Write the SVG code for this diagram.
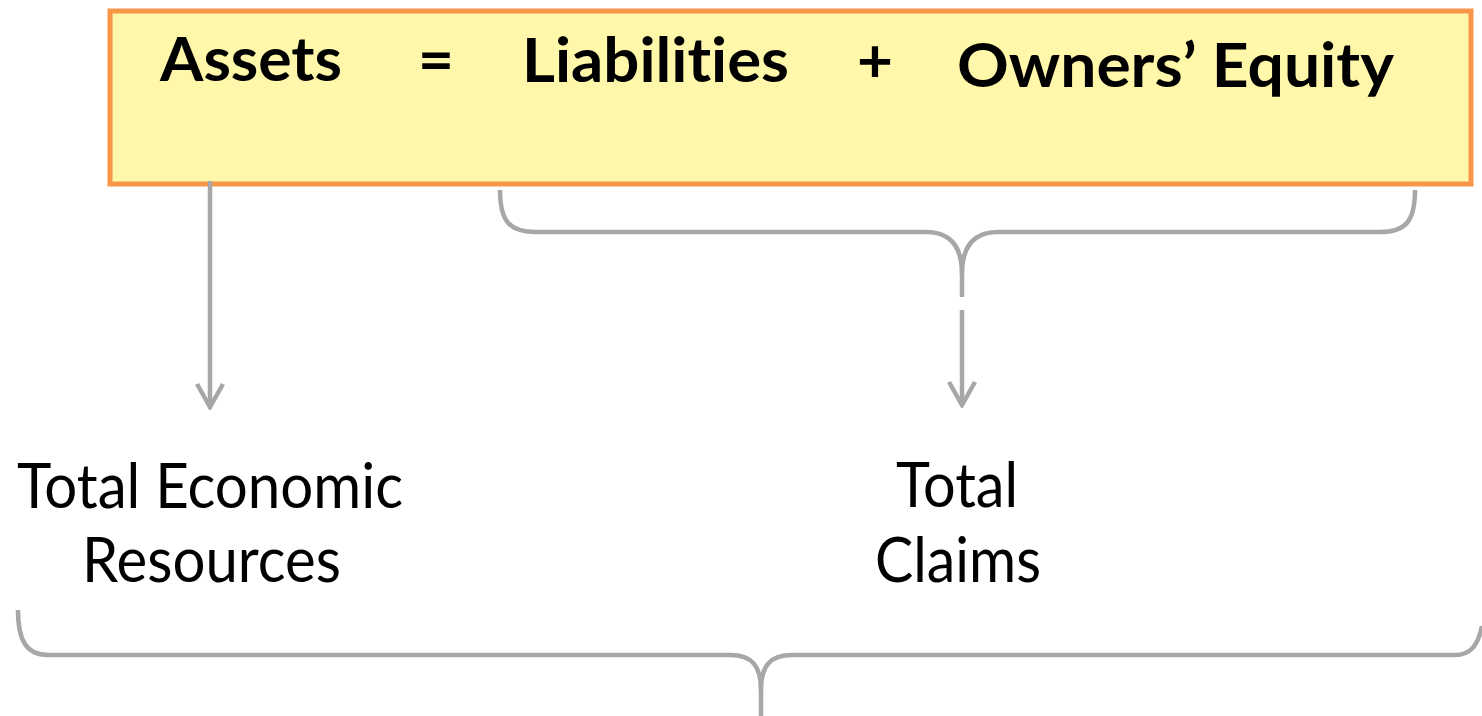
<svg xmlns="http://www.w3.org/2000/svg" width="1482" height="716" viewBox="0 0 1482 716">
  <defs>
    <style>
      text { font-variant-ligatures: none; font-feature-settings: "liga" 0, "clig" 0; }
      .eq { font-family: Lato, "Open Sans", "Liberation Sans", sans-serif; font-weight: 700; font-size: 62px; fill: #000; }
      .lbl { font-family: Lato, "Open Sans", "Liberation Sans", sans-serif; font-weight: 400; font-size: 61px; fill: #000; }
      .link { fill: none; stroke: #A7A7AA; stroke-width: 4.5; stroke-linecap: butt; stroke-linejoin: round; }
    </style>
    <!-- open V arrowhead, tip along +x so orient="auto" follows the line -->
    <marker id="chevron" viewBox="0 0 28 30" refX="25" refY="15" markerWidth="28" markerHeight="30" markerUnits="userSpaceOnUse" orient="auto">
      <path d="M2,2 L25,15 L2,28" fill="none" stroke="#A7A7AA" stroke-width="4.5" stroke-linejoin="miter"/>
    </marker>
  </defs>

  <!-- accounting equation box -->
  <g id="equation">
    <rect x="110" y="11" width="1361" height="173" fill="#FFF7AA" stroke="#F79646" stroke-width="5"/>
    <text class="eq" x="160" y="81" textLength="182" lengthAdjust="spacingAndGlyphs">Assets</text>
    <text class="eq" x="436" y="81" text-anchor="middle">=</text>
    <text class="eq" x="522" y="82" textLength="267" lengthAdjust="spacingAndGlyphs">Liabilities</text>
    <text class="eq" x="875" y="82" text-anchor="middle">+</text>
    <text class="eq" x="957" y="87" textLength="437" lengthAdjust="spacingAndGlyphs">Owners’ Equity</text>
  </g>

  <!-- left result -->
  <g id="resources">
    <text class="lbl" x="17" y="508" textLength="386" lengthAdjust="spacingAndGlyphs">Total Economic</text>
    <text class="lbl" x="82" y="582" textLength="259" lengthAdjust="spacingAndGlyphs">Resources</text>
  </g>

  <!-- right result -->
  <g id="claims">
    <text class="lbl" x="896" y="507" textLength="122" lengthAdjust="spacingAndGlyphs">Total</text>
    <text class="lbl" x="875" y="582" textLength="166" lengthAdjust="spacingAndGlyphs">Claims</text>
  </g>

  <!-- connectors and braces -->
  <g id="connectors">
    <line class="link" x1="210" y1="181" x2="210" y2="407" marker-end="url(#chevron)"/>
    <path class="link" d="M500,190 C500,222 510,232 536,232 L926,232 C952,232 962,248 962,274 L962,297"/>
    <path class="link" d="M1415,190 C1415,222 1405,232 1380,232 L998,232 C972,232 962,248 962,274"/>
    <line class="link" x1="962" y1="310" x2="962" y2="405" marker-end="url(#chevron)"/>
    <path class="link" d="M18,610 C18,640 26,655 48,655 L730,655 C752,655 761,666 761,690 L761,716"/>
    <path class="link" d="M1482,626 C1478,646 1470,655 1455,655 L792,655 C770,655 761,666 761,690"/>
  </g>
</svg>
